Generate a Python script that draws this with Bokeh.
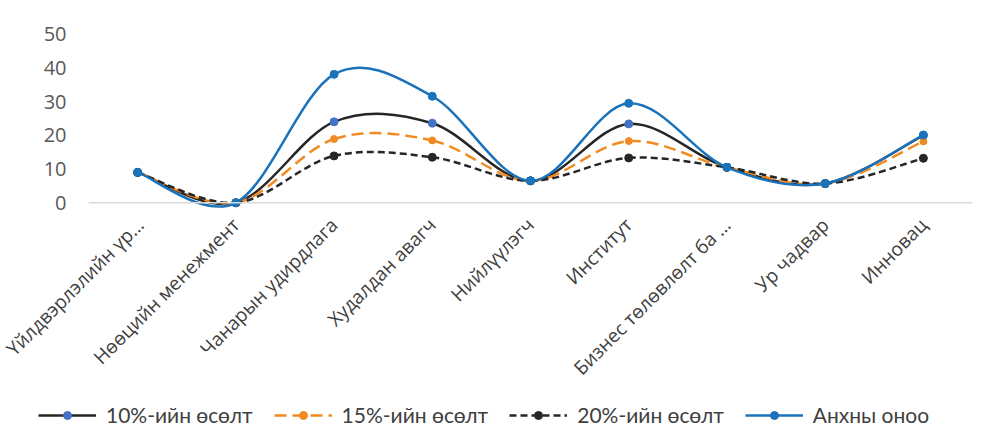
import math
from bokeh.plotting import figure
from bokeh.models import FixedTicker, Legend, LegendItem, Range1d, Span
from bokeh.embed import file_html
from bokeh.resources import INLINE

categories = ["Үйлдвэрлэлийн үр…", "Нөөцийн менежмент", "Чанарын удирдлага",
              "Худалдан авагч", "Нийлүүлэгч", "Институт",
              "Бизнес төлөвлөлт ба …", "Ур чадвар", "Инновац"]
growth_10 = [9.0, 0.0, 24.0, 23.6, 6.5, 23.4, 10.5, 5.7, 20.0]
growth_15 = [9.0, 0.0, 18.9, 18.5, 6.5, 18.3, 10.5, 5.7, 18.2]
growth_20 = [9.0, 0.0, 13.9, 13.5, 6.5, 13.3, 10.5, 5.7, 13.2]
initial = [9.0, 0.0, 38.1, 31.6, 6.5, 29.5, 10.5, 5.7, 20.1]
y_ticks = [0, 10, 20, 30, 40, 50]

xs = list(range(len(categories)))


def smooth_segments(x, y):
    """Cubic Bezier segments (Catmull-Rom style) through the data points."""
    n = len(x)
    seg = dict(x0=[], y0=[], x1=[], y1=[], cx0=[], cy0=[], cx1=[], cy1=[])
    for i in range(n - 1):
        xp, yp = (x[i - 1], y[i - 1]) if i > 0 else (x[i], y[i])
        xn, yn = (x[i + 2], y[i + 2]) if i + 2 < n else (x[i + 1], y[i + 1])
        seg["x0"].append(x[i]); seg["y0"].append(y[i])
        seg["x1"].append(x[i + 1]); seg["y1"].append(y[i + 1])
        seg["cx0"].append(x[i] + (x[i + 1] - xp) / 6.0)
        seg["cy0"].append(y[i] + (y[i + 1] - yp) / 6.0)
        seg["cx1"].append(x[i + 1] - (xn - x[i]) / 6.0)
        seg["cy1"].append(y[i + 1] - (yn - y[i]) / 6.0)
    return seg


p = figure(output_backend="svg", toolbar_location=None,
           width=985, height=392,
           min_border_left=88, min_border_right=13, min_border_top=27,
           min_border_bottom=180,
           x_range=Range1d(-0.5, 8.5), y_range=Range1d(-2, 52))
p.outline_line_color = None
p.xgrid.grid_line_color = None
p.ygrid.grid_line_color = None

p.add_layout(Span(location=0, dimension="width", line_color="#d9d9d9", line_width=1.5))

series = [
    ("10%-ийн өсөлт", growth_10, "#262626", "solid", "#4472c4", 8),
    ("15%-ийн өсөлт", growth_15, "#f28a22", "12 6", "#f28a22", 7),
    ("20%-ийн өсөлт", growth_20, "#262626", "7 4", "#262626", 8),
    ("Анхны оноо", initial, "#1a73ba", "solid", "#1a73ba", 8),
]

# legend strip under the chart (separate root); sample glyphs sit outside its range
lg = figure(output_backend="svg", toolbar_location=None, width=985, height=45,
            min_border=0, min_border_left=0, min_border_right=0,
            min_border_top=0, min_border_bottom=0,
            x_range=Range1d(0, 1), y_range=Range1d(0, 1),
            x_axis_location=None, y_axis_location=None)
lg.grid.visible = False
lg.outline_line_color = None

items = []
for name, vals, col, dash, mcol, msize in series:
    seg = smooth_segments(xs, vals)
    p.bezier(source=seg, x0="x0", y0="y0", x1="x1", y1="y1",
             cx0="cx0", cy0="cy0", cx1="cx1", cy1="cy1",
             line_color=col, line_width=2.5, line_dash=dash)
    p.scatter(xs, vals, size=msize, color=mcol, marker="circle")
    l1 = lg.line([-5, -4], [-5, -5], line_color=col, line_width=2.5, line_dash=dash)
    l2 = lg.scatter([-5], [-5], size=msize, color=mcol, marker="circle")
    items.append(LegendItem(label=name, renderers=[l1, l2]))

legend = Legend(items=items, orientation="horizontal", location=(38, 10),
                glyph_width=58, label_standoff=10, spacing=21,
                label_text_font="Lato", label_text_font_size="21px",
                label_text_color="#404040", border_line_color=None,
                background_fill_alpha=0, padding=0, margin=0)
lg.add_layout(legend, "center")

p.yaxis.ticker = FixedTicker(ticks=y_ticks)
p.yaxis.axis_line_color = None
p.yaxis.major_tick_line_color = None
p.yaxis.minor_tick_line_color = None
p.yaxis.major_label_text_font = "Open Sans"
p.yaxis.major_label_text_font_size = "20px"
p.yaxis.major_label_text_color = "#595959"
p.yaxis.major_label_standoff = 16

p.xaxis.ticker = FixedTicker(ticks=xs)
p.xaxis.major_label_overrides = {i: c for i, c in enumerate(categories)}
p.xaxis.axis_line_color = None
p.xaxis.major_tick_line_color = None
p.xaxis.minor_tick_line_color = None
p.xaxis.major_label_orientation = math.pi / 4
p.xaxis.major_label_text_font = "Open Sans"
p.xaxis.major_label_text_font_size = "19px"
p.xaxis.major_label_text_color = "#404040"
p.xaxis.major_label_standoff = 6

open("out.html", "w").write(file_html([p, lg], INLINE))
